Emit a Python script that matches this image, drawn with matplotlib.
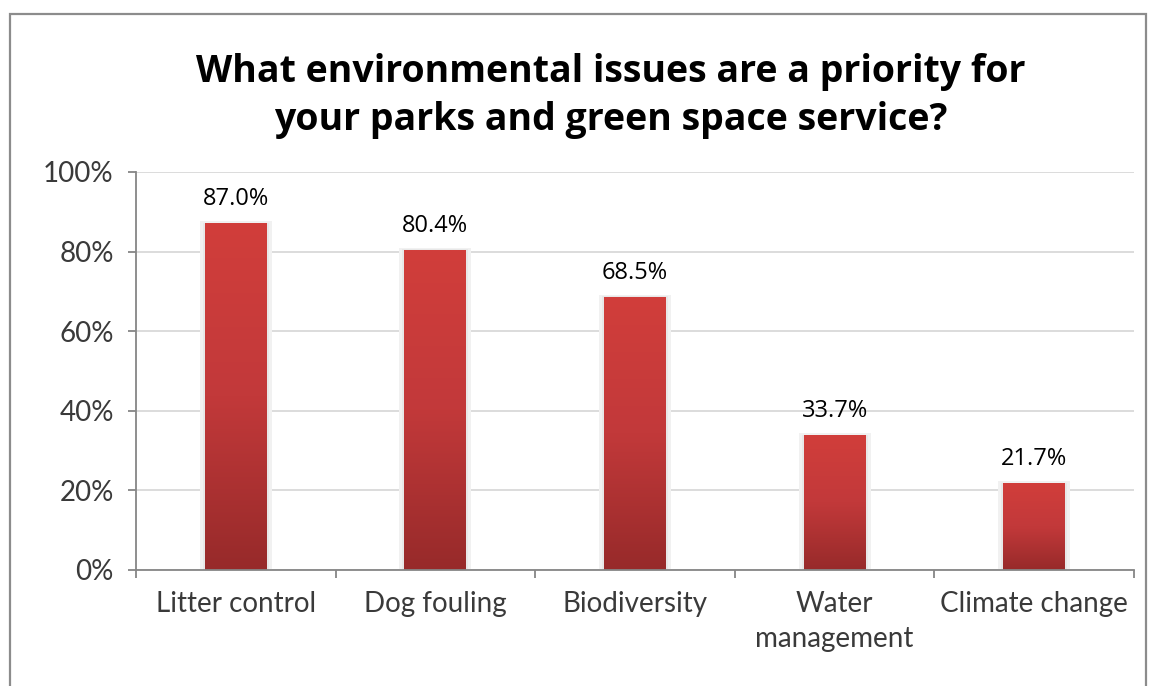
import numpy as np
import matplotlib
matplotlib.use("Agg")
import matplotlib.pyplot as plt
from matplotlib.patches import Rectangle
from matplotlib.colors import LinearSegmentedColormap

# Survey results
categories = ["Litter control", "Dog fouling", "Biodiversity", "Water\nmanagement", "Climate change"]
values = [87.0, 80.4, 68.5, 33.7, 21.7]
yticks = [0, 20, 40, 60, 80, 100]
title = "What environmental issues are a priority for\nyour parks and green space service?"

fig = plt.figure(figsize=(11.49, 6.86), dpi=100)
ax = fig.add_axes([136 / 1149, 1 - 570 / 686, (1134 - 136) / 1149, (570 - 172) / 686])

# Outer chart frame
fig.patches.append(Rectangle((10 / 1149, -0.05), (1146 - 10) / 1149, 1.05 - 14 / 686,
                             transform=fig.transFigure, fill=False,
                             edgecolor="#8c8c8c", lw=1.6, zorder=0))

bar_w = 0.31
grad = LinearSegmentedColormap.from_list("redgrad", ["#972a2a", "#c2393a", "#d13e3b"])
x = np.arange(len(categories))
for xi, v in zip(x, values):
    # soft shadow behind bar
    ax.add_patch(Rectangle((xi - bar_w / 2 - 0.025, 0), bar_w + 0.05, v + 0.6,
                           facecolor="#f1f1f1", edgecolor="none", zorder=2))
    ax.add_patch(Rectangle((xi - bar_w / 2 - 0.01, 0), bar_w + 0.02, v + 0.25,
                           facecolor="#e8e8e8", edgecolor="none", zorder=2))
    img = np.linspace(0, 1, 256).reshape(-1, 1)
    ax.imshow(img, cmap=grad, origin="lower", aspect="auto",
              extent=[xi - bar_w / 2, xi + bar_w / 2, 0, v], zorder=3, interpolation="bilinear")
    ax.annotate(f"{v:.1f}%", (xi, v), xytext=(0, 9), textcoords="offset points",
                ha="center", va="bottom", fontsize=17, family="Open Sans", color="#000000")

ax.set_xlim(-0.5, len(categories) - 0.5)
ax.set_ylim(0, 100)

tick_font = dict(family="Lato", fontweight="normal", fontsize=20, color="#3a3a3a")
ax.set_yticks(yticks)
ax.set_yticklabels([f"{t}%" for t in yticks], **tick_font)
ax.yaxis.grid(True, color="#d9d9d9", lw=1.3)
ax.set_axisbelow(True)

ax.set_xticks(np.arange(len(categories) + 1) - 0.5)
ax.set_xticklabels([])
ax.set_xticks(x, minor=True)
ax.set_xticklabels(categories, minor=True, linespacing=1.45, **tick_font)
ax.tick_params(axis="x", which="minor", length=0, pad=15)
ax.tick_params(axis="x", which="major", length=6, width=1.3, color="#868686", direction="out")
ax.tick_params(axis="y", length=6, width=1.3, color="#868686", direction="out", pad=10)

for s in ["top", "right"]:
    ax.spines[s].set_visible(False)
for s in ["left", "bottom"]:
    ax.spines[s].set_color("#868686")
    ax.spines[s].set_linewidth(1.3)
ax.spines["bottom"].set_zorder(4)

fig.text(611 / 1149, 1 - 96 / 686, title, ha="center", va="center", fontsize=27,
         fontweight="bold", family="Open Sans", color="#000000", linespacing=1.32)

fig.savefig("out.png", dpi=100)
